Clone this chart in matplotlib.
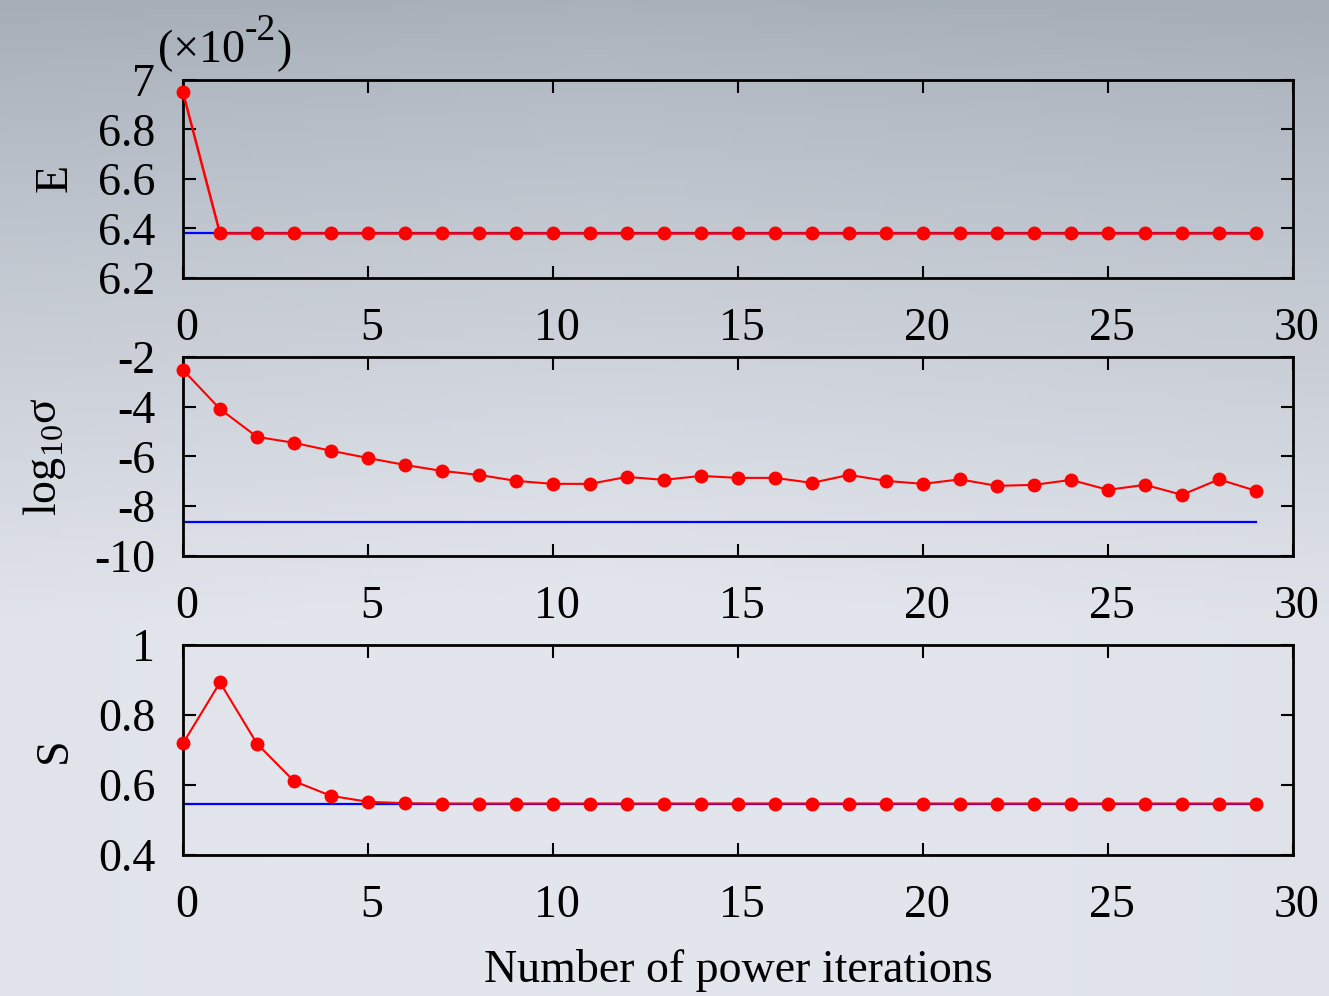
import numpy as np
import matplotlib
matplotlib.use('Agg')
import matplotlib.pyplot as plt
import matplotlib.transforms as mtransforms

plt.rcParams['font.family'] = ['Liberation Serif', 'DejaVu Serif']
plt.rcParams['mathtext.fontset'] = 'custom'
plt.rcParams['mathtext.rm'] = 'Liberation Serif'
plt.rcParams['axes.unicode_minus'] = False

iters = list(range(30))

# energy (x 1e-2)
energy = [6.95] + [6.38] * 29
energy_ref = 6.38

# log10 sigma
log_sigma = [-2.52, -4.09, -5.21, -5.45, -5.77, -6.06, -6.34, -6.58, -6.74, -6.98,
             -7.10, -7.10, -6.82, -6.94, -6.78, -6.86, -6.86, -7.06, -6.74, -6.98,
             -7.10, -6.92, -7.18, -7.14, -6.94, -7.34, -7.14, -7.54, -6.92, -7.38]
log_sigma_ref = -8.63

# S
s_vals = [0.719, 0.893, 0.718, 0.611, 0.569, 0.552, 0.548] + [0.547] * 23
s_ref = 0.546

FS = 33
W, H = 1329, 996
fig = plt.figure(figsize=(W / 100, H / 100), dpi=100)

# background gradient
bg = fig.add_axes([0, 0, 1, 1], zorder=-10)
yy = np.linspace(0, 1, 200)[:, None]
xx = np.linspace(0, 1, 200)[None, :]
top = np.array([166, 174, 184]) / 255
bot = np.array([226, 229, 236]) / 255
t = np.clip(yy * 1.6, 0, 1) ** 0.8
t = np.clip(t + 0.08 * (1 - np.abs(xx - 0.45) * 2) - 0.04, 0, 1)
img = top[None, None, :] * (1 - t[..., None]) + bot[None, None, :] * t[..., None]
bg.imshow(img, aspect='auto', extent=[0, 1, 1, 0])
bg.axis('off')

shift = mtransforms.ScaledTranslation(4 / 100, 0, fig.dpi_scale_trans)


def px_axes(top_px, bot_px):
    return fig.add_axes([183 / W, 1 - bot_px / H, 1110 / W, (bot_px - top_px) / H])


def style(ax, ylim, yticks, ylabels):
    ax.set_facecolor('none')
    ax.set_xlim(0, 30)
    ax.set_ylim(*ylim)
    ax.set_xticks(range(0, 31, 5))
    ax.set_yticks(yticks)
    ax.set_yticklabels(ylabels)
    ax.tick_params(direction='in', length=9, width=1.5, top=True, right=True,
                   labelsize=FS, pad=20)
    ax.tick_params(axis='x', pad=21)
    for lbl in ax.get_xticklabels():
        lbl.set_transform(lbl.get_transform() + shift)
    for sp in ax.spines.values():
        sp.set_linewidth(2)


ax1 = px_axes(80, 278)
ax1.plot(iters, energy_ref * np.ones(len(iters)), color='blue', lw=1.6, zorder=2)
ax1.plot(iters, energy, color='red', lw=1.8, marker='o', ms=9, clip_on=False, zorder=3)
style(ax1, (6.2, 7.0), [6.2, 6.4, 6.6, 6.8, 7.0], ['6.2', '6.4', '6.6', '6.8', '7'])

ax2 = px_axes(357, 556)
ax2.plot(iters, log_sigma_ref * np.ones(len(iters)), color='blue', lw=1.6, zorder=2)
ax2.plot(iters, log_sigma, color='red', lw=1.5, marker='o', ms=9, clip_on=False, zorder=3)
style(ax2, (-10, -2), [-10, -8, -6, -4, -2], ['-10', '-8', '-6', '-4', '-2'])

ax3 = px_axes(645, 855)
ax3.plot(iters, s_ref * np.ones(len(iters)), color='blue', lw=1.6, zorder=2)
ax3.plot(iters, s_vals, color='red', lw=1.5, marker='o', ms=9, clip_on=False, zorder=3)
style(ax3, (0.4, 1.0), [0.4, 0.6, 0.8, 1.0], ['0.4', '0.6', '0.8', '1'])

fig.text(55 / W, 1 - 178 / H, 'E', rotation=90, fontsize=FS, ha='center', va='center')
fig.text(45 / W, 1 - 457 / H, r'log$_{\mathregular{10}}$σ', rotation=90, fontsize=FS,
         ha='center', va='center')
fig.text(55 / W, 1 - 750 / H, 'S', rotation=90, fontsize=FS, ha='center', va='center')
fig.text(738 / W, 1 - 970 / H, 'Number of power iterations', fontsize=FS,
         ha='center', va='center')

# exponent label "(x10^-2)" built from pieces
renderer = fig.canvas.get_renderer()
x0 = 158
t1 = fig.text(x0 / W, 1 - 62 / H, '(×10', fontsize=FS, ha='left', va='baseline')
x1 = t1.get_window_extent(renderer).x1
t2 = fig.text(x1 / W, 1 - 40 / H, '-2', fontsize=27, ha='left', va='baseline')
x2 = t2.get_window_extent(renderer).x1
fig.text(x2 / W, 1 - 62 / H, ')', fontsize=FS, ha='left', va='baseline')

fig.savefig('out.png', dpi=100)
